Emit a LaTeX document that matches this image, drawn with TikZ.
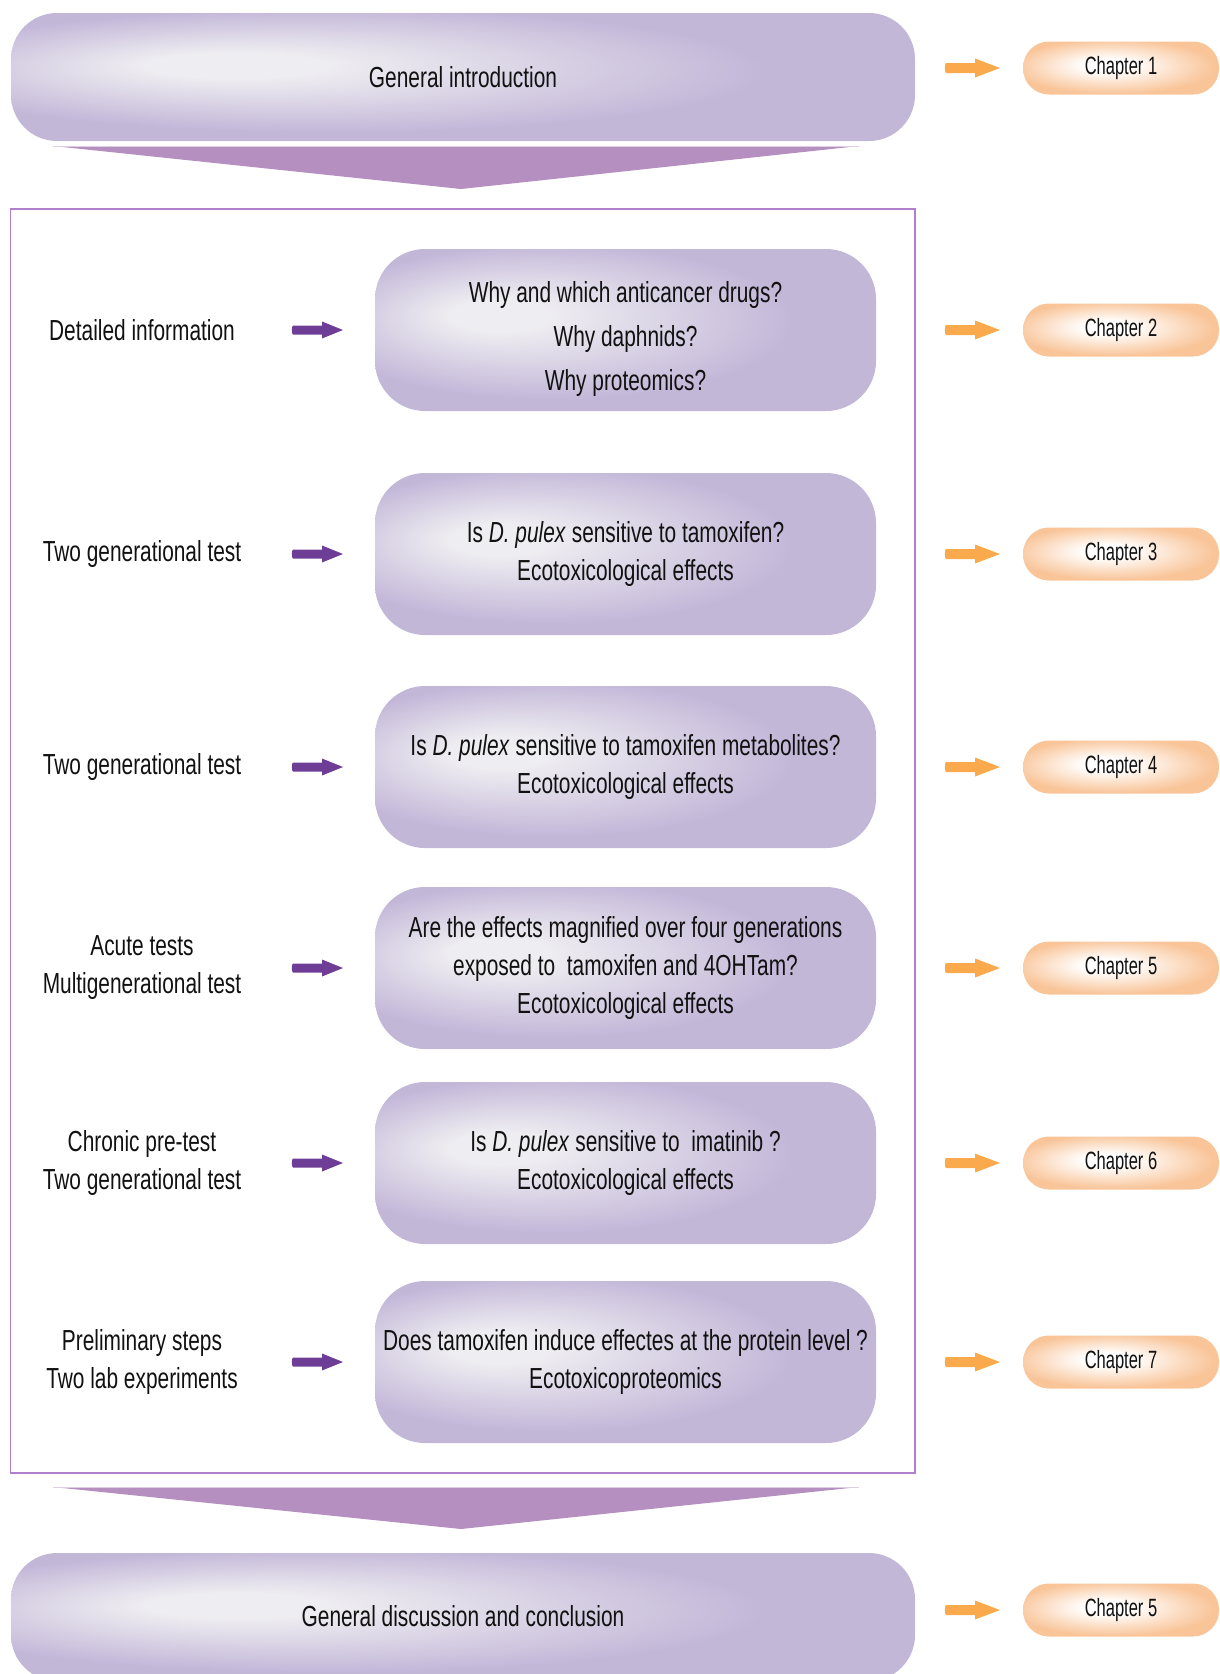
\documentclass[tikz,border=0pt]{standalone}
\usepackage{fontspec}
\setmainfont{Liberation Sans}[FakeStretch=0.72]
\newfontfamily\chapfont{Liberation Sans}[FakeStretch=0.66]

\definecolor{lavlight}{RGB}{238,237,241}
\definecolor{lavdark}{RGB}{195,183,216}
\definecolor{peach}{RGB}{249,196,152}
\definecolor{tricol}{RGB}{182,143,193}
\definecolor{framecol}{RGB}{178,128,202}
\definecolor{arrpurple}{RGB}{110,62,150}
\definecolor{arrorange}{RGB}{250,170,76}
\definecolor{inktext}{RGB}{17,17,17}

% soft lavender fill, brightest towards the upper left
\pgfdeclareradialshading{lavshade}{\pgfpoint{-14bp}{5bp}}{%
  color(0bp)=(lavlight); color(5bp)=(lavlight);
  color(24bp)=(lavdark); color(50bp)=(lavdark)}
% peach pill fill with a white core
\pgfdeclareradialshading{peachshade}{\pgfpoint{-4bp}{3bp}}{%
  color(0bp)=(white); color(6bp)=(white);
  color(26bp)=(peach); color(50bp)=(peach)}

\tikzset{
  bigbox/.style={shading=lavshade, rounded corners=46pt, inner sep=0pt,
    minimum width=904pt, minimum height=128pt},
  qbox/.style={shading=lavshade, rounded corners=50pt, inner sep=0pt,
    minimum width=501pt, minimum height=162pt},
  qtext/.style={font=\fontsize{29}{38}\selectfont, align=center, text=inktext, inner sep=0pt},
  sidetext/.style={font=\fontsize{29}{38}\selectfont, align=center, text=inktext, inner sep=0pt},
  chap/.style={shading=peachshade, rounded corners=26pt, inner sep=0pt,
    minimum width=196pt, minimum height=53pt,
    font=\chapfont\fontsize{25}{30}\selectfont, text=inktext},
  funnel/.style={fill=tricol},
  pics/parrow/.style={code={
    \fill[arrpurple] (1,-4.5) -- (30,-4.5) -- (30,-8.5) -- (51,0) -- (30,8.5)
      -- (30,4.5) -- (1,4.5) .. controls (-0.5,4.5) and (-0.5,-4.5) .. (1,-4.5) -- cycle;}},
  pics/oarrow/.style={code={
    \fill[arrorange] (1,-5) -- (30,-5) -- (30,-9.5) -- (55,0) -- (30,9.5)
      -- (30,5) -- (1,5) .. controls (-0.5,5) and (-0.5,-5) .. (1,-5) -- cycle;}},
}

\begin{document}
\begin{tikzpicture}[x=1pt, y=-1pt]
  \useasboundingbox (0,0) rectangle (1220,1674);
  \clip (0,0) rectangle (1220,1674);

  % opening and closing sections
  \node[bigbox] (intro) at (463,77) {};
  \node[qtext] (introtext) at (intro.center) {General introduction};
  \node[bigbox] (concl) at (463,1617) {};
  \node[qtext] (concltext) at (463,1616) {General discussion and conclusion};

  % funnels
  \fill[funnel] (53,146) -- (859,146) -- (461,189) -- cycle;
  \draw[white!55!tricol, line width=1pt] (53,146.5) -- (859,146.5);
  \fill[funnel] (53,1487) -- (859,1487) -- (461,1529) -- cycle;
  \draw[white!55!tricol, line width=1pt] (53,1487.5) -- (859,1487.5);

  % frame around the research questions
  \draw[framecol, line width=1.3pt] (10.5,209) rectangle (915,1473);

  % research question boxes
  \node[qbox] (b1) at (625.5,330) {};
  \node[qbox] (b2) at (625.5,554) {};
  \node[qbox] (b3) at (625.5,767) {};
  \node[qbox] (b4) at (625.5,968) {};
  \node[qbox] (b5) at (625.5,1163) {};
  \node[qbox] (b6) at (625.5,1362) {};

  \node[qtext, font=\fontsize{29}{44}\selectfont] (q1) at (625.5,339)
    {Why and which anticancer drugs?\\Why daphnids?\\Why proteomics?};
  \node[qtext] (q2) at (b2.center)
    {Is \textit{D. pulex} sensitive to tamoxifen?\\Ecotoxicological effects};
  \node[qtext] (q3) at (b3.center)
    {Is \textit{D. pulex} sensitive to tamoxifen metabolites?\\Ecotoxicological effects};
  \node[qtext] (q4) at (b4.center)
    {Are the effects magnified over four generations\\exposed to\ \ tamoxifen and 4OHTam?\\Ecotoxicological effects};
  \node[qtext] (q5) at (b5.center)
    {Is \textit{D. pulex} sensitive to\ \ imatinib ?\\Ecotoxicological effects};
  \node[qtext] (q6) at (b6.center)
    {Does tamoxifen induce effectes at the protein level ?\\Ecotoxicoproteomics};

  % approaches
  \node[sidetext] (s1) at (142,330) {Detailed information};
  \node[sidetext] (s2) at (142,554) {Two generational test};
  \node[sidetext] (s3) at (142,767) {Two generational test};
  \node[sidetext] (s4) at (142,968) {Acute tests\\Multigenerational test};
  \node[sidetext] (s5) at (142,1163) {Chronic pre-test\\Two generational test};
  \node[sidetext] (s6) at (142,1362) {Preliminary steps\\Two lab experiments};

  \foreach \yy in {330,554,767,968,1163,1362}
    \pic at (292,\yy) {parrow};

  % chapters
  \node[chap] (c1) at (1121,68) {Chapter 1};
  \node[chap] (c2) at (1121,330) {Chapter 2};
  \node[chap] (c3) at (1121,554) {Chapter 3};
  \node[chap] (c4) at (1121,767) {Chapter 4};
  \node[chap] (c5) at (1121,968) {Chapter 5};
  \node[chap] (c6) at (1121,1163) {Chapter 6};
  \node[chap] (c7) at (1121,1362) {Chapter 7};
  \node[chap] (c8) at (1121,1610) {Chapter 5};

  \foreach \yy in {68,330,554,767,968,1163,1362,1610}
    \pic at (945,\yy) {oarrow};
\end{tikzpicture}
\end{document}
